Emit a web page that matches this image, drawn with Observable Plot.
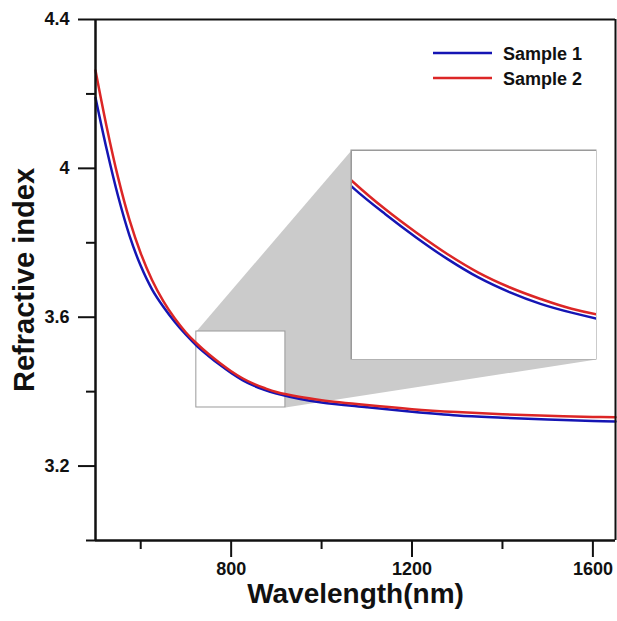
<!DOCTYPE html>
<html><head><meta charset="utf-8">
<script src="https://cdn.jsdelivr.net/npm/d3@7"></script>
<script src="https://cdn.jsdelivr.net/npm/@observablehq/plot@0.6"></script>
<style>
body{margin:0;background:#fff;}
#chart{position:relative;width:617px;height:621px;font-family:"Liberation Sans",Arial,sans-serif;}
#chart svg{font-family:"Liberation Sans",Arial,sans-serif;}
</style></head><body><div id="chart"></div>
<script>
// ---- data ----
const wavelength = [500, 525, 550, 575, 600, 625, 650, 675, 700, 725, 750, 775, 800, 825, 850, 875, 900, 950, 1000, 1100, 1200, 1300, 1400, 1500, 1600, 1650];
const sample1 = [4.190, 4.050, 3.925, 3.820, 3.738, 3.675, 3.628, 3.588, 3.553, 3.522, 3.496, 3.472, 3.450, 3.431, 3.416, 3.404, 3.395, 3.381, 3.371, 3.358, 3.346, 3.336, 3.330, 3.325, 3.321, 3.320];
const sample2 = [4.263, 4.110, 3.975, 3.862, 3.772, 3.700, 3.643, 3.597, 3.559, 3.528, 3.501, 3.477, 3.455, 3.436, 3.421, 3.409, 3.399, 3.386, 3.377, 3.364, 3.353, 3.345, 3.339, 3.335, 3.332, 3.331];
const seriesNames = ["Sample 1", "Sample 2"];
const seriesColors = ["#1515b4", "#dc2626"];
const xMajorTicks = [800, 1200, 1600];
const xMinorTicks = [600, 1000, 1400];
const yMajorTicks = [3.2, 3.6, 4, 4.4];
const yMinorTicks = [3.0, 3.4, 3.8, 4.2];
const xDomain = [500, 1650];
const yDomain = [3.0, 4.4];
const zoomX = [723, 920];
const zoomY = [3.3574, 3.5616];
const insetX = [1066, 1608];
const insetY = [3.4864, 4.048];
const insetYDomain = [3.347, 3.561];
const xTitle = "Wavelength(nm)";
const yTitle = "Refractive index";

const FONT = "Liberation Sans, Arial, Helvetica, sans-serif";
const rows = [];
[sample1, sample2].forEach((vals, i) => wavelength.forEach((w, j) => rows.push({series: seriesNames[i], wl: w, n: vals[j]})));
const zoomBox = {x1: zoomX[0], x2: zoomX[1], y1: zoomY[0], y2: zoomY[1]};
const insetBox = {x1: insetX[0], x2: insetX[1], y1: insetY[0], y2: insetY[1]};
const polygon = [
  {x: zoomX[0], y: zoomY[1]},
  {x: insetX[0], y: insetY[1]},
  {x: insetX[1], y: insetY[0]},
  {x: zoomX[1], y: zoomY[0]}
];
const color = {domain: seriesNames, range: seriesColors};

const main = Plot.plot({
  width: 617, height: 621,
  marginLeft: 95, marginRight: 2, marginTop: 19, marginBottom: 81,
  x: {domain: xDomain},
  y: {domain: yDomain},
  color,
  style: {fontFamily: FONT, fontSize: "18px", color: "#111", background: "white"},
  marks: [
    Plot.line(polygon, {x: "x", y: "y", fill: "#cbcbcb", stroke: "none"}),
    Plot.rect([zoomBox], {x1: "x1", x2: "x2", y1: "y1", y2: "y2", fill: "white", stroke: "#9a9a9a", strokeWidth: 1}),
    Plot.line(rows, {x: "wl", y: "n", stroke: "series", z: "series", strokeWidth: 2.5, curve: "catmull-rom"}),
    Plot.rect([insetBox], {x1: "x1", x2: "x2", y1: "y1", y2: "y2", fill: "white", stroke: "#9a9a9a", strokeWidth: 1}),
    Plot.axisX({ticks: xMajorTicks, tickSize: 17, tickPadding: 5, tickFormat: d => String(d), label: null, fontSize: 18, fontWeight: "bold", strokeWidth: 2}),
    Plot.axisX({ticks: xMinorTicks, tickSize: 9, tickFormat: () => "", label: null, strokeWidth: 2}),
    Plot.axisY({ticks: yMajorTicks, tickSize: 17, tickPadding: 9, tickFormat: d => String(d), label: null, fontSize: 18, fontWeight: "bold", strokeWidth: 2}),
    Plot.axisY({ticks: yMinorTicks, tickSize: 9, tickFormat: () => "", label: null, strokeWidth: 2}),
    Plot.ruleY([yDomain[0]], {strokeWidth: 2.5}),
    Plot.ruleX([xDomain[0]], {strokeWidth: 2.5}),
    Plot.ruleY([yDomain[1]], {strokeWidth: 2}),
    Plot.ruleX([xDomain[1]], {strokeWidth: 2}),
    Plot.text([xTitle], {frameAnchor: "bottom", lineAnchor: "bottom", dy: 62, fontSize: 28, fontWeight: "bold"}),
    Plot.text([yTitle], {frameAnchor: "left", textAnchor: "middle", rotate: -90, dx: -71, dy: 0, fontSize: 29, fontWeight: "bold"})
  ]
});
const chart = document.getElementById("chart");
chart.appendChild(main);

// ---- inset (zoomed view), positioned via the main plot's scales ----
const xs = main.scale("x"), ys = main.scale("y");
const iLeft = xs.apply(insetX[0]), iRight = xs.apply(insetX[1]);
const iTop = ys.apply(insetY[1]), iBottom = ys.apply(insetY[0]);
const inset = Plot.plot({
  width: Math.round(iRight - iLeft), height: Math.round(iBottom - iTop),
  margin: 0,
  x: {domain: zoomX, axis: null},
  y: {domain: insetYDomain, axis: null},
  color,
  style: {background: "white"},
  marks: [
    Plot.line(rows, {x: "wl", y: "n", stroke: "series", z: "series", strokeWidth: 2.5, curve: "catmull-rom", clip: true}),
    Plot.frame({stroke: "#9a9a9a", strokeWidth: 1})
  ]
});
inset.style.position = "absolute";
inset.style.left = Math.round(iLeft) + "px";
inset.style.top = Math.round(iTop) + "px";
chart.appendChild(inset);

// ---- legend ----
const legend = d3.select(chart).append("svg")
  .attr("width", 180).attr("height", 60)
  .style("position", "absolute").style("left", "428px").style("top", "38px")
  .style("overflow", "visible");
seriesNames.forEach((s, i) => {
  const y = 15 + i * 25;
  legend.append("line").attr("x1", 5).attr("x2", 64).attr("y1", y).attr("y2", y)
    .attr("stroke", seriesColors[i]).attr("stroke-width", 2.5);
  legend.append("text").attr("x", 75).attr("y", y + 6.5).text(s)
    .attr("font-family", FONT).attr("font-size", 18).attr("font-weight", "bold").attr("fill", "#111");
});
</script></body></html>
